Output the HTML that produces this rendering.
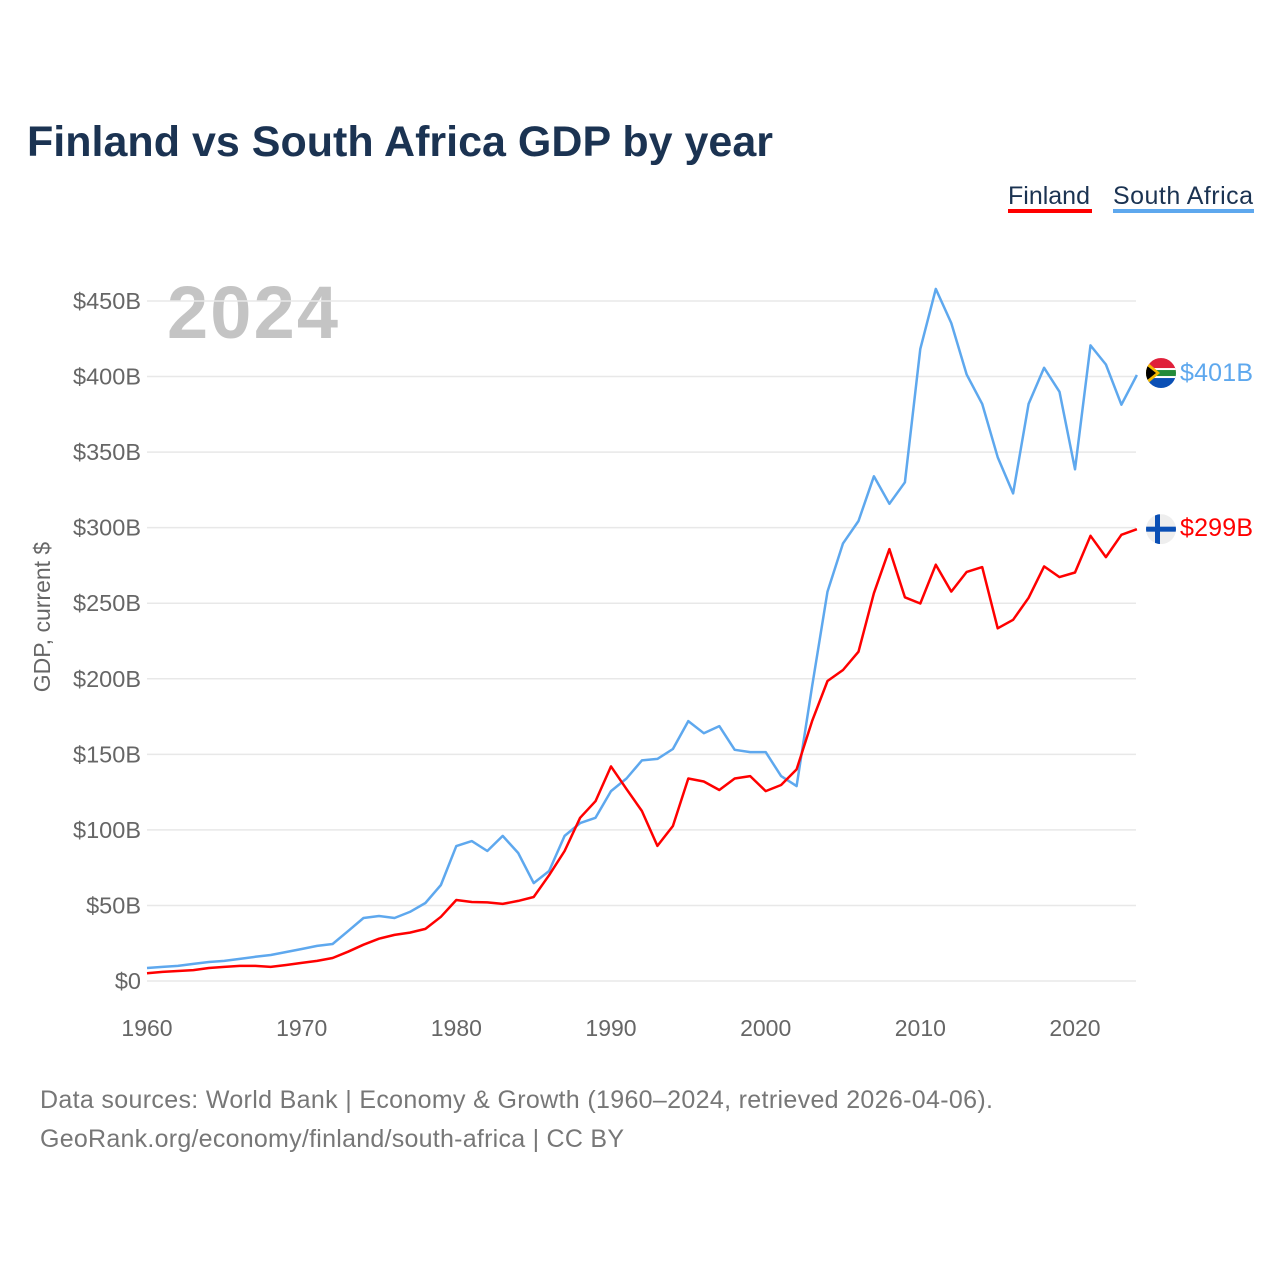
<!DOCTYPE html>
<html><head><meta charset="utf-8">
<style>
body{margin:0;background:#fff;font-family:"Liberation Sans",sans-serif;}
svg text{font-family:"Liberation Sans",sans-serif;}
</style></head>
<body>
<svg width="1280" height="1280" viewBox="0 0 1280 1280">
<text x="27" y="156" font-size="43" font-weight="bold" fill="#1b3352" textLength="746">Finland vs South Africa GDP by year</text>
<g>
<g><text x="1008" y="204" font-size="25" fill="#1b3352">Finland</text><rect x="1008" y="209" width="84" height="4" fill="#ff0000"/></g>
<g><text x="1113" y="204" font-size="25" fill="#1b3352" textLength="140">South Africa</text><rect x="1113" y="209" width="141" height="4" fill="#5ea8ee"/></g>
</g>
<text x="167" y="338" font-size="74" font-weight="bold" fill="#c4c4c4" textLength="171">2024</text>
<text transform="translate(50,617) rotate(-90)" text-anchor="middle" font-size="23" fill="#666">GDP, current $</text>
<g id="grid"></g><g id="yticks"></g><g id="xticks"></g><g id="lines"></g><g id="ends"></g>
<text x="40" y="1108" font-size="25" fill="#777" textLength="953">Data sources: World Bank | Economy &amp; Growth (1960–2024, retrieved 2026-04-06).</text>
<text x="40" y="1147" font-size="25" fill="#777" textLength="584">GeoRank.org/economy/finland/south-africa | CC BY</text>
</svg>
<script>
const years=[];for(let y=1960;y<=2024;y++)years.push(y);
const finland=[5.1,6,6.6,7.2,8.6,9.3,10,10,9.3,10.6,12,13.3,15.2,19.4,24,28,30.5,32,34.5,42.5,53.6,52.3,52,51,53,55.6,70,86,108,119,142,127,112.5,89.4,102.6,134,132,126.4,134,135.6,125.7,129.7,140,172,198.5,205.8,217.9,256.6,285.8,253.9,249.8,275.5,257.7,270.7,273.9,233.4,239,253.6,274.4,267.3,270.3,294.6,280.5,295.3,299];
const southAfrica=[8.6,9.3,10,11.3,12.6,13.3,14.6,16,17.2,19.2,21.2,23.2,24.5,33,41.7,43,41.7,45.7,51.6,63.5,89.3,92.6,86,96,84.7,64.8,72.8,96,104.5,108,125.7,134,146,147,153.5,172,164,168.7,153,151.5,151.5,135.6,129,195,257.7,289.6,304.4,334,315.8,330,418.3,458,435.4,401.3,381.9,346.6,322.7,381.9,405.8,389.9,338.6,420.6,408,381.4,401];
const yTicks=[0,50,100,150,200,250,300,350,400,450];
const yTickLabels=["$0","$50B","$100B","$150B","$200B","$250B","$300B","$350B","$400B","$450B"];
const xTicks=[1960,1970,1980,1990,2000,2010,2020];
const endLabels=["$299B","$401B"];
const NS="http://www.w3.org/2000/svg";
const X=y=>147+(y-1960)*928/60;
const Y=v=>981-v*680/450;
function mk(tag,attrs,parent,text){const e=document.createElementNS(NS,tag);for(const k in attrs)e.setAttribute(k,attrs[k]);if(text!==undefined)e.textContent=text;document.getElementById(parent).appendChild(e);return e;}
yTicks.forEach((t,i)=>{
 const g=mk('line',{x1:147,x2:1136,y1:Y(t),y2:Y(t),stroke:'#e8e8e8','stroke-width':1.5},'grid');
 
 
 const l=mk('text',{x:141,y:Y(t)+8,'text-anchor':'end','font-size':23.5,fill:'#666'},'yticks',yTickLabels[i]);
 
 
});
xTicks.forEach(t=>{
 const l=mk('text',{x:X(t),y:1036,'text-anchor':'middle','font-size':23,fill:'#666'},'xticks',String(t));
 
 
});
function line(data,color,name){
 const d=data.map((v,i)=>(i?'L':'M')+X(years[i]).toFixed(1)+' '+Y(v).toFixed(1)).join(' ');
 const p=mk('path',{d:d,fill:'none',stroke:color,'stroke-width':2.5,'stroke-linejoin':'round'},'lines');
 
 
}
line(southAfrica,'#5ea8ee','line-south-africa');
line(finland,'#ff0000','line-finland');
const lastF=finland[finland.length-1],lastS=southAfrica[southAfrica.length-1];
const ys=Y(lastS)-2,yf=Y(lastF),cx=1161;
const defs=mk('defs',{},'ends');
const cp=mk('clipPath',{id:'c1'},'ends');defs.appendChild(cp);
mk('circle',{cx:cx,cy:ys,r:15},'ends');cp.appendChild(document.getElementById('ends').lastChild);
const cp2=mk('clipPath',{id:'c2'},'ends');defs.appendChild(cp2);
mk('circle',{cx:cx,cy:yf,r:15},'ends');cp2.appendChild(document.getElementById('ends').lastChild);
const sa=mk('g',{'clip-path':'url(#c1)'},'ends');


sa.innerHTML=`<rect x="${cx-15}" y="${ys-15}" width="30" height="15" fill="#e0203a"/><rect x="${cx-15}" y="${ys}" width="30" height="15" fill="#0a4fb5"/><rect x="${cx-15}" y="${ys-5}" width="30" height="10" fill="#fff"/><rect x="${cx-15}" y="${ys-3}" width="30" height="6" fill="#238b3a"/><polygon points="${cx-15},${ys-12} ${cx-1},${ys} ${cx-15},${ys+12}" fill="#f5b800"/><polygon points="${cx-15},${ys-8} ${cx-5},${ys} ${cx-15},${ys+8}" fill="#000"/>`;
const fi=mk('g',{'clip-path':'url(#c2)'},'ends');


fi.innerHTML=`<rect x="${cx-15}" y="${yf-15}" width="30" height="30" fill="#eeeeee"/><rect x="${cx-15}" y="${yf-2.5}" width="30" height="5" fill="#0a4fb5"/><rect x="${cx-6}" y="${yf-15}" width="5" height="30" fill="#0a4fb5"/>`;
const t1=mk('text',{x:1180,y:ys+8,'font-size':25,fill:'#5ea8ee',textLength:73},'ends',endLabels[1]);


const t2=mk('text',{x:1180,y:yf+7,'font-size':25,fill:'#ff0000',textLength:73},'ends',endLabels[0]);


</script>
</body></html>
